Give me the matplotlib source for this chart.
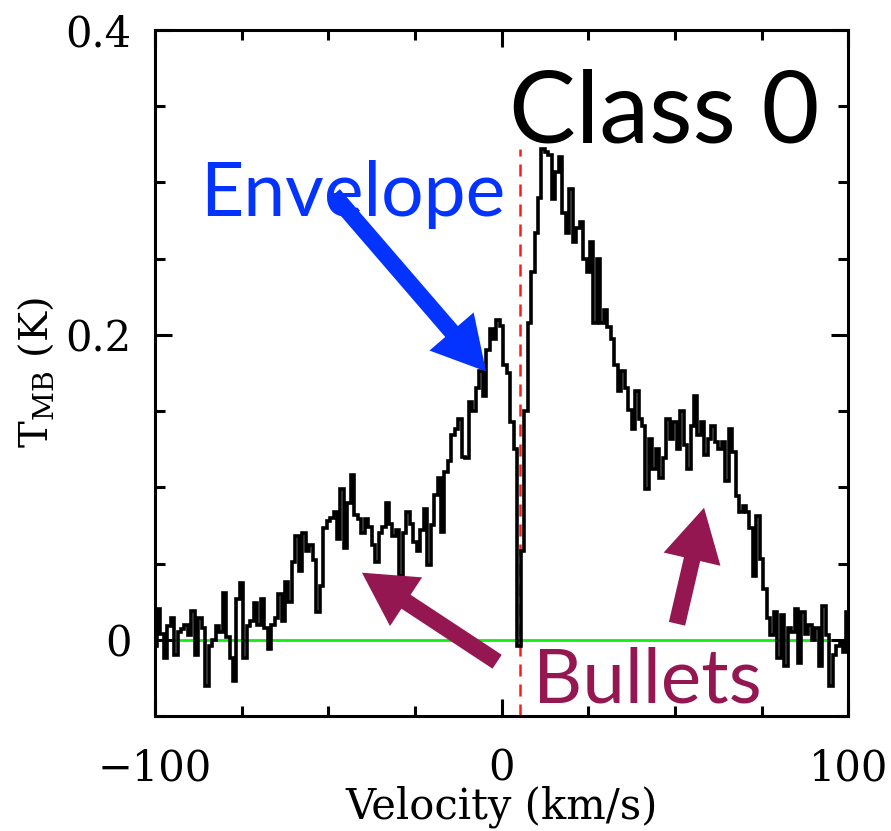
import numpy as np
import matplotlib
matplotlib.use("Agg")
import matplotlib.pyplot as plt
from matplotlib.patches import FancyArrowPatch
from matplotlib.ticker import MultipleLocator

# Spectrum: main-beam temperature (K) on a 1 km/s velocity grid
velocity = np.arange(-100, 101, 1)
t_mb = [
    -0.004, 0.020, 0.004, -0.012, 0.009, 0.014, -0.010, 0.005, 0.007, 0.010,   # -100..-91
    0.003, 0.019, -0.010, 0.014, 0.008, -0.030, -0.004, 0.000, 0.009, 0.005,   # -90..-81
    0.031, 0.002, -0.012, -0.027, 0.027, 0.037, -0.012, 0.009, 0.012, 0.024,   # -80..-71
    0.010, 0.027, 0.008, -0.006, 0.010, 0.014, 0.030, 0.012, 0.038, 0.025,     # -70..-61
    0.051, 0.068, 0.045, 0.070, 0.058, 0.062, 0.052, 0.018, 0.035, 0.073,     # -60..-51
    0.078, 0.080, 0.084, 0.066, 0.099, 0.060, 0.090, 0.108, 0.082, 0.079,     # -50..-41
    0.070, 0.079, 0.074, 0.062, 0.051, 0.070, 0.074, 0.090, 0.076, 0.068,     # -40..-31
    0.072, 0.042, 0.070, 0.084, 0.076, 0.064, 0.058, 0.072, 0.086, 0.049,     # -30..-21
    0.075, 0.095, 0.106, 0.071, 0.110, 0.117, 0.134, 0.138, 0.145, 0.120,     # -20..-11
    0.119, 0.156, 0.150, 0.165, 0.176, 0.160, 0.190, 0.204, 0.197, 0.210,     # -10..-1
    0.206, 0.180, 0.175, 0.143, 0.125, -0.004, 0.058, 0.150, 0.208, 0.241,    # 0..9
    0.267, 0.290, 0.322, 0.320, 0.318, 0.289, 0.307, 0.317, 0.280, 0.267,     # 10..19
    0.296, 0.261, 0.270, 0.274, 0.250, 0.241, 0.261, 0.208, 0.250, 0.208,     # 20..29
    0.216, 0.205, 0.197, 0.180, 0.163, 0.176, 0.165, 0.151, 0.138, 0.163,     # 30..39
    0.145, 0.140, 0.099, 0.132, 0.112, 0.125, 0.106, 0.119, 0.145, 0.132,     # 40..49
    0.143, 0.125, 0.150, 0.128, 0.112, 0.140, 0.160, 0.134, 0.143, 0.121,     # 50..59
    0.132, 0.140, 0.130, 0.125, 0.130, 0.104, 0.138, 0.123, 0.094, 0.084,     # 60..69
    0.088, 0.084, 0.073, 0.042, 0.081, 0.053, 0.033, 0.014, 0.003, 0.018,     # 70..79
    -0.012, 0.016, -0.017, 0.008, 0.005, 0.020, -0.015, 0.018, 0.004, 0.010,  # 80..89
    0.000, 0.008, -0.017, 0.022, 0.003, -0.030, -0.010, -0.004, -0.002, -0.008,  # 90..99
    0.018,                                                                     # 100
]

v_source = 5.2          # systemic velocity (km/s)
v_limits = (-100, 100)
t_limits = (-0.05, 0.4)
x_major = [-100, 0, 100]
x_major_labels = ["\u2212100", "0", "100"]
y_major = [0, 0.2, 0.4]
y_major_labels = ["0", "0.2", "0.4"]

blue = "#0433ff"
maroon = "#941751"
tick_font = "DejaVu Serif"
label_font = "Lato"

fig = plt.figure(figsize=(8.91, 8.31), dpi=100)
ax = fig.add_axes([0.174, 0.1384, 0.778, 0.8255])

ax.axhline(0, color="#11ee11", lw=2.0, zorder=1)
ax.plot([v_source, v_source], [t_limits[0], 0.322], color="#ff1a1a",
        lw=1.8, dashes=(4.8, 3.2), zorder=2)
ax.plot(velocity, t_mb, drawstyle="steps-mid", color="black", lw=2.6,
        solid_joinstyle="miter", zorder=3)

ax.set_xlim(*v_limits)
ax.set_ylim(*t_limits)

ax.set_xticks(x_major)
ax.set_xticklabels(x_major_labels)
ax.xaxis.set_minor_locator(MultipleLocator(25))
ax.set_yticks(y_major)
ax.set_yticklabels(y_major_labels)
ax.yaxis.set_minor_locator(MultipleLocator(0.05))

ax.tick_params(which="both", direction="in", top=True, right=True, width=2.2)
ax.tick_params(which="major", length=12, labelsize=30)
ax.tick_params(which="minor", length=7)
ax.tick_params(axis="x", which="major", pad=23)
ax.tick_params(axis="y", which="major", pad=17)
for lab in ax.get_xticklabels() + ax.get_yticklabels():
    lab.set_family(tick_font)
for sp in ax.spines.values():
    sp.set_linewidth(2.2)

ax.set_xlabel("Velocity (km/s)", family=tick_font, fontsize=30, labelpad=-3)
ax.set_ylabel(r"T$_{\mathregular{MB}}$ (K)", family=tick_font, fontsize=29, labelpad=6)

# Annotations
ax.text(47, 0.326, "Class 0", family=label_font, fontsize=72, color="black",
        ha="center", va="baseline")
ax.text(-43, 0.278, "Envelope", family=label_font, fontsize=54, color=blue,
        ha="center", va="baseline")
ax.text(42, -0.041, "Bullets", family=label_font, fontsize=55, color=maroon,
        ha="center", va="baseline")

def arrow(tail, tip, color):
    a = FancyArrowPatch(tail, tip, arrowstyle="simple,head_length=38,head_width=42,tail_width=12",
                        color=color, mutation_scale=1, lw=0, zorder=4,
                        shrinkA=0, shrinkB=0)
    ax.add_patch(a)

arrow((-48.5, 0.292), (-4.5, 0.176), blue)
arrow((-1.3, -0.0144), (-40.3, 0.044), maroon)
arrow((50.6, 0.0105), (58.4, 0.0866), maroon)

fig.savefig("out.png", dpi=100)
